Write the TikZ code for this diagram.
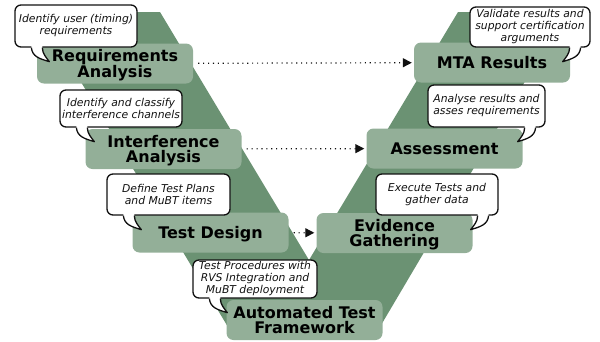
\documentclass[tikz,border=0pt]{standalone}
\usepackage{fontspec}
\setmainfont{DejaVu Sans}
\usetikzlibrary{positioning,arrows.meta,calc}
\definecolor{vband}{HTML}{6B9273}
\definecolor{vbox}{HTML}{93AF98}
\definecolor{ink}{HTML}{111111}
% speech tails: L points down-right from the left corner, R down-left from the right one
\newcommand{\spkL}[1]{%
  \coordinate (#1a) at ($(#1.south west)+(17,0)$);
  \coordinate (#1t) at ($(#1a)+(18,14)$);
  \coordinate (#1b) at ($(#1a)+(11,0)$);
  \fill[white] ($(#1a)+(0,-3)$) -- (#1a) .. controls +(1,9) and +(-10,-3) .. (#1t)
    .. controls +(-3,-4) and +(0,6) .. (#1b) -- ($(#1b)+(0,-3)$) -- cycle;
  \draw[tl] (#1a) .. controls +(1,9) and +(-10,-3) .. (#1t)
    .. controls +(-3,-4) and +(0,6) .. (#1b);}
\newcommand{\spkR}[1]{%
  \coordinate (#1a) at ($(#1.south east)+(-10,0)$);
  \coordinate (#1t) at ($(#1a)+(-18,14)$);
  \coordinate (#1b) at ($(#1a)+(-11,0)$);
  \fill[white] ($(#1a)+(0,-3)$) -- (#1a) .. controls +(-1,9) and +(10,-3) .. (#1t)
    .. controls +(3,-4) and +(0,6) .. (#1b) -- ($(#1b)+(0,-3)$) -- cycle;
  \draw[tl] (#1a) .. controls +(-1,9) and +(10,-3) .. (#1t)
    .. controls +(3,-4) and +(0,6) .. (#1b);}
\tikzset{
  phase/.style ={fill=vbox, rounded corners=7pt, minimum width=156pt, minimum height=40pt, align=center, inner sep=0pt, text depth=0pt, font=\fontsize{16}{14.5}\selectfont\bfseries},
  bub/.style   ={draw=ink, line width=1.3pt, fill=white, rounded corners=6pt, align=center, inner sep=0pt, text=ink, font=\fontsize{10.8}{12}\selectfont\itshape},
  tl/.style    ={draw=ink, line width=1.3pt, line join=round},
  flow/.style  ={draw=ink, line width=1.2pt, dash pattern=on 1.1pt off 3.8pt, -{Triangle[length=9pt,width=9pt]}, shorten <=5pt, shorten >=2pt},
}

\begin{document}
\begin{tikzpicture}[x=1pt,y=-1pt]
  \useasboundingbox (0,0) rectangle (600,341);
  \fill[vband] (39,12) -- (160,12) -- (309,260) -- (458,12) -- (566,12) -- (374,337) -- (234,337) -- cycle;

  \node[phase] (req)    at (115,63.5)    {Requirements\\Analysis};
  \node[phase] (intf)   at (163.5,149)   {Interference\\Analysis};
  \node[phase] (design) at (210.5,232.5) {Test Design};
  \node[phase] (atf)    at (304.5,320)   {Automated Test\\Framework};
  \node[phase] (evid)   at (394.5,233)   {Evidence\\Gathering};
  \node[phase] (assess) at (444.5,148.5) {Assessment};
  \node[phase] (mta)    at (492,62.5)    {MTA Results};

  \draw[flow] (req) -- (mta);
  \draw[flow] (intf) -- (assess);
  \draw[flow] (design) -- (evid);

  \node[bub,minimum width=122pt,minimum height=42pt] (b1) at (76,26)      {Identify user (timing)\\requirements};
  \node[bub,minimum width=122pt,minimum height=37pt] (b2) at (121,108.5)  {Identify and classify\\interference channels};
  \node[bub,minimum width=123pt,minimum height=41pt] (b3) at (168.5,194.5) {Define Test Plans\\and MuBT items};
  \node[bub,minimum width=124pt,minimum height=38pt] (b4) at (255,279)    {Test Procedures with\\RVS Integration and\\MuBT deployment};
  \node[bub,minimum width=122pt,minimum height=41pt] (b5) at (437,194.5)  {Execute Tests and\\gather data};
  \node[bub,minimum width=117pt,minimum height=42pt] (b6) at (486.5,106)  {Analyse results and\\asses requirements};
  \node[bub,minimum width=120pt,minimum height=40pt] (b7) at (530,27)     {Validate results and\\support certification\\arguments};
  \spkL{b1} \spkL{b2} \spkL{b3} \spkL{b4}
  \spkR{b5} \spkR{b6} \spkR{b7}
\end{tikzpicture}
\end{document}
